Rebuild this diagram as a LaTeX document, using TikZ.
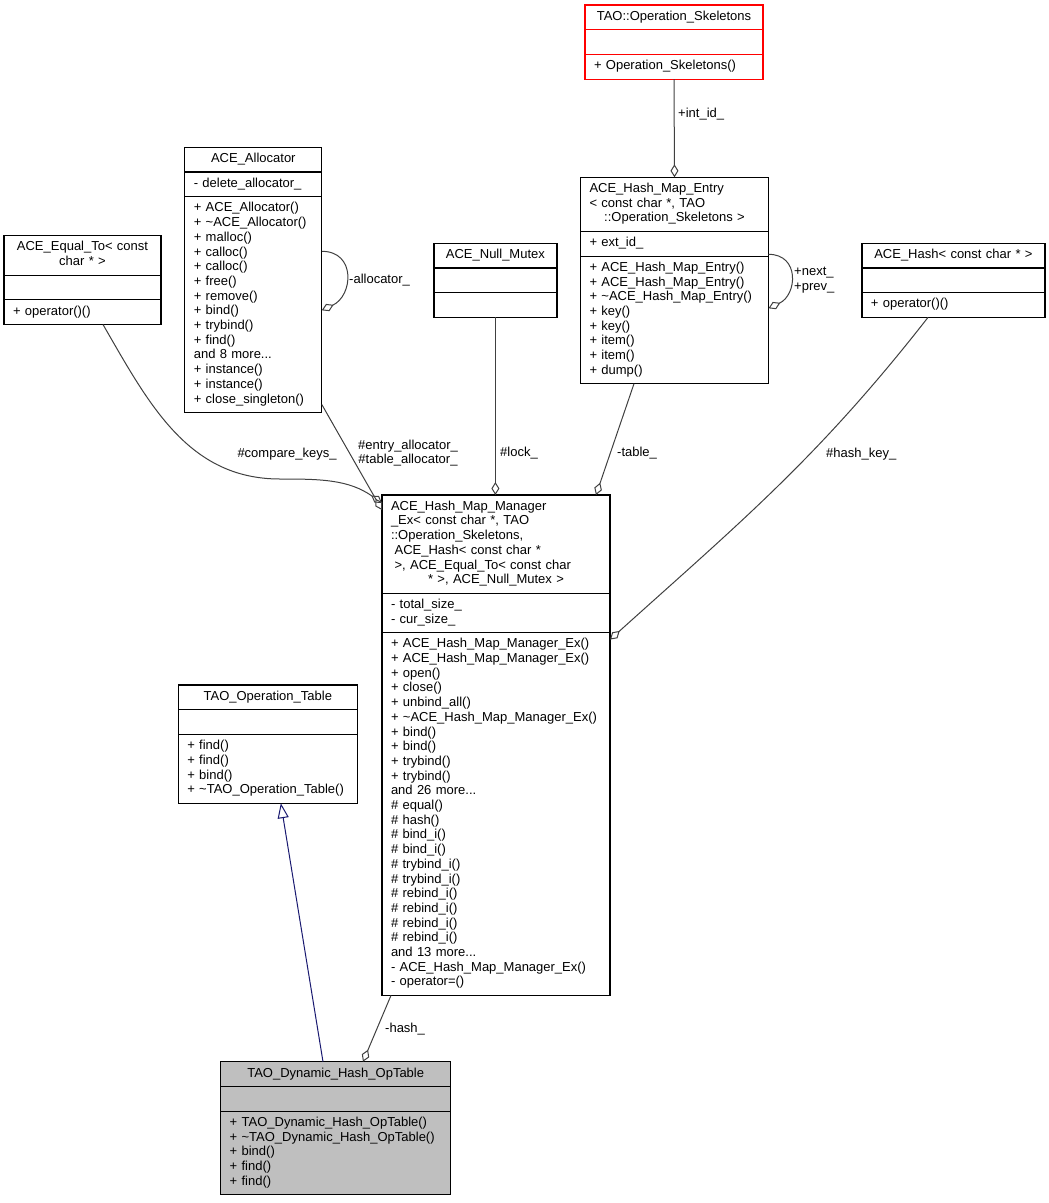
\documentclass[tikz,border=0pt]{standalone}
\usepackage{fontspec}
\setmainfont{Liberation Sans}
\usepackage{tikz}
\definecolor{edgecolor}{rgb}{0.25,0.25,0.25}
\definecolor{navyline}{rgb}{0.1,0.1,0.44}
\definecolor{classgray}{rgb}{0.75,0.75,0.75}
\usetikzlibrary{arrows.meta,positioning,shapes}
\newcommand{\classfont}{\fontsize{13}{14.7}\selectfont}
\tikzset{
	classbox/.style={
		rectangle,
		draw=black,
		line width=1.2pt,
		outer sep=0pt,
		inner xsep=9pt,
		inner ysep=5pt,
		text width=#1,
		align=left,
		font=\classfont,
		execute at begin node=\strut,
		execute at end node=\strut
	},
	classhead/.style={
		classbox=#1,
		align=center
	},
	redclass/.style={
		draw=red
	},
	aggregation/.style={
		draw=edgecolor,
		line width=1pt,
		-{Diamond[open,length=13pt,width=8pt]}
	},
	inherit/.style={
		draw=navyline,
		line width=1pt,
		-{Triangle[open,length=15pt,width=11pt]}
	},
	edgelabel/.style={
		inner sep=0pt,
		anchor=west,
		font=\classfont
	}
}

\begin{document}
\begin{tikzpicture}[x=1pt,y=-1pt]
	\useasboundingbox (0,0) rectangle (1049,1203);
	% classes
	\node[classhead=160pt,redclass,anchor=north] (skel) at (674,5) {TAO::Operation\_Skeletons};
	\node[classbox=160pt,redclass] (skel-a) [below=0pt of skel] {};
	\node[classbox=160pt,redclass] (skel-m) [below=0pt of skel-a] {+ Operation\_Skeletons()};

	\node[classbox=170pt,anchor=north] (entry) at (674.5,177.3) {ACE\_Hash\_Map\_Entry\\< const char *, TAO\\\hspace*{\fill}::Operation\_Skeletons >\hspace*{\fill}};
	\node[classbox=170pt] (entry-a) [below=0pt of entry] {+ ext\_id\_};
	\node[classbox=170pt] (entry-m) [below=0pt of entry-a] {+ ACE\_Hash\_Map\_Entry()\\+ ACE\_Hash\_Map\_Entry()\\+ \textasciitilde ACE\_Hash\_Map\_Entry()\\+ key()\\+ key()\\+ item()\\+ item()\\+ dump()};

	\node[classhead=119pt,anchor=north] (alloc) at (253.3,147.3) {ACE\_Allocator};
	\node[classbox=119pt] (alloc-a) [below=0pt of alloc] {- delete\_allocator\_};
	\node[classbox=119pt] (alloc-m) [below=0pt of alloc-a] {+ ACE\_Allocator()\\+ \textasciitilde ACE\_Allocator()\\+ malloc()\\+ calloc()\\+ calloc()\\+ free()\\+ remove()\\+ bind()\\+ trybind()\\+ find()\\and 8 more...\\+ instance()\\+ instance()\\+ close\_singleton()};

	\node[classhead=139pt,anchor=north] (equal) at (82.5,235.7) {ACE\_Equal\_To< const\\char * >};
	\node[classbox=139pt] (equal-a) [below=0pt of equal] {};
	\node[classbox=139pt] (equal-m) [below=0pt of equal-a] {+ operator()()};

	\node[classhead=105pt,anchor=north] (mutex) at (495.4,243.3) {ACE\_Null\_Mutex};
	\node[classbox=105pt] (mutex-a) [below=0pt of mutex] {};
	\node[classbox=105pt] (mutex-m) [below=0pt of mutex-a] {};

	\node[classhead=165pt,anchor=north] (hash) at (953.4,243.3) {ACE\_Hash< const char * >};
	\node[classbox=165pt] (hash-a) [below=0pt of hash] {};
	\node[classbox=165pt] (hash-m) [below=0pt of hash-a] {+ operator()()};

	\node[classbox=210pt,anchor=north] (mgr) at (496,495) {ACE\_Hash\_Map\_Manager\\\_Ex< const char *, TAO\\::Operation\_Skeletons,\\\hspace*{3.6pt}ACE\_Hash< const char *\\\hspace*{3.6pt}>, ACE\_Equal\_To< const char\\\hspace*{\fill}* >, ACE\_Null\_Mutex >\hspace*{\fill}};
	\node[classbox=210pt] (mgr-a) [below=0pt of mgr] {- total\_size\_\\- cur\_size\_};
	\node[classbox=210pt] (mgr-m) [below=0pt of mgr-a] {+ ACE\_Hash\_Map\_Manager\_Ex()\\+ ACE\_Hash\_Map\_Manager\_Ex()\\+ open()\\+ close()\\+ unbind\_all()\\+ \textasciitilde ACE\_Hash\_Map\_Manager\_Ex()\\+ bind()\\+ bind()\\+ trybind()\\+ trybind()\\and 26 more...\\\# equal()\\\# hash()\\\# bind\_i()\\\# bind\_i()\\\# trybind\_i()\\\# trybind\_i()\\\# rebind\_i()\\\# rebind\_i()\\\# rebind\_i()\\\# rebind\_i()\\and 13 more...\\- ACE\_Hash\_Map\_Manager\_Ex()\\- operator=()};

	\node[classhead=161pt,anchor=north] (optab) at (267.8,685) {TAO\_Operation\_Table};
	\node[classbox=161pt] (optab-a) [below=0pt of optab] {};
	\node[classbox=161pt] (optab-m) [below=0pt of optab-a] {+ find()\\+ find()\\+ bind()\\+ \textasciitilde TAO\_Operation\_Table()};

	\node[classhead=212pt,fill=classgray,anchor=north] (dyn) at (335.7,1061.7) {TAO\_Dynamic\_Hash\_OpTable};
	\node[classbox=212pt,fill=classgray] (dyn-a) [below=0pt of dyn] {};
	\node[classbox=212pt,fill=classgray] (dyn-m) [below=0pt of dyn-a] {+ TAO\_Dynamic\_Hash\_OpTable()\\+ \textasciitilde TAO\_Dynamic\_Hash\_OpTable()\\+ bind()\\+ find()\\+ find()};

	% connectors
	\coordinate (cmp-bend) at (280,479);
	\draw[aggregation] (skel-m.south) -- (entry.north);
	\draw[aggregation] ([yshift=-77pt]entry.north east) to[out=0,in=25,looseness=1.5] ([yshift=-131pt]entry.north east);
	\draw[aggregation] ([yshift=-104pt]alloc.north east) to[out=0,in=25,looseness=1.5] ([yshift=-163pt]alloc.north east);
	\draw[aggregation] ([xshift=20.5pt]equal-m.south) to[out=-60,in=180] (cmp-bend) to[out=0,in=145] ([yshift=-8pt]mgr.north west);
	\draw[aggregation] ([yshift=8pt]alloc-m.south east) -- ([yshift=-15pt]mgr.north west);
	\draw[aggregation] (mutex-m.south) -- (mutex-m.south |- mgr.north);
	\draw[aggregation] ([xshift=-40.5pt]entry-m.south) -- ([xshift=-14pt]mgr.north east);
	\draw[aggregation] ([xshift=-25.4pt]hash-m.south) to[out=-128,in=42] ([yshift=-7pt]mgr-m.north east);
	\draw[aggregation] ([xshift=9pt]mgr-m.south west) -- ([xshift=27.3pt]dyn.north);
	\draw[inherit] ([xshift=-12.7pt]dyn.north) -- ([xshift=13pt]optab-m.south);

	% labels
	\node[edgelabel] (lbl-intid) at (678,114) {+int\_id\_};
	\node[edgelabel,align=left] (lbl-next) at (794,280) {+next\_\\+prev\_};
	\node[edgelabel] (lbl-alloc) at (349,280) {-allocator\_};
	\node[edgelabel,anchor=center] (lbl-cmp) at (287,454) {\#compare\_keys\_};
	\node[edgelabel,anchor=center,align=center] (lbl-entry) at (408,453) {\#entry\_allocator\_\\\#table\_allocator\_};
	\node[edgelabel,anchor=center] (lbl-lock) at (519,453) {\#lock\_};
	\node[edgelabel] (lbl-table) at (617,453) {-table\_};
	\node[edgelabel] (lbl-hashkey) at (826,454) {\#hash\_key\_};
	\node[edgelabel] (lbl-hash) at (385,1029) {-hash\_};
\end{tikzpicture}
\end{document}
